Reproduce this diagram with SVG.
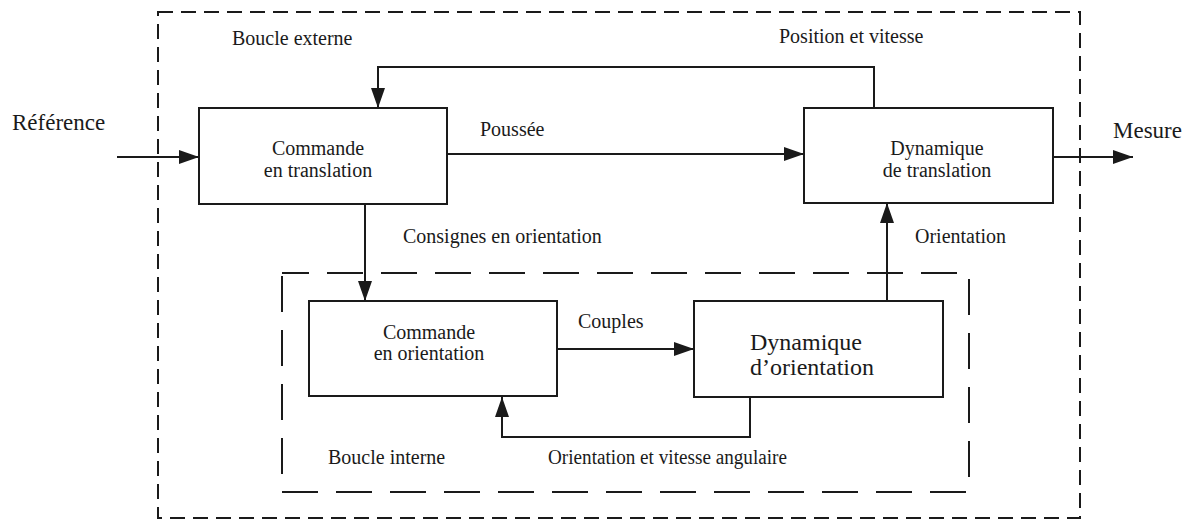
<svg xmlns="http://www.w3.org/2000/svg" width="1193" height="520" viewBox="0 0 1193 520">
  <style>
    .box { fill: #ffffff; stroke: #1a1a1a; stroke-width: 2; }
    .wire { fill: none; stroke: #1a1a1a; stroke-width: 2; }
    .loop-outer { fill: none; stroke: #1a1a1a; stroke-width: 2; stroke-dasharray: 15 8; }
    .loop-inner { fill: none; stroke: #1a1a1a; stroke-width: 2; stroke-dasharray: 36 18; stroke-dashoffset: 9; }
    text { font-family: "Liberation Serif", "Times New Roman", serif; font-size: 20px; fill: #1a1a1a; }
    .big { font-size: 23px; }
    .mid { text-anchor: middle; }
  </style>
  <defs>
    <marker id="arrow" markerUnits="userSpaceOnUse" markerWidth="20" markerHeight="14" refX="20" refY="7" orient="auto">
      <path d="M0,0 L20,7 L0,14 Z" fill="#1a1a1a"/>
    </marker>
  </defs>

  <rect width="1193" height="520" fill="#ffffff"/>

  <!-- loop boundaries -->
  <g id="outer-loop">
    <rect class="loop-outer" x="158" y="12" width="922" height="506"/>
    <text x="232" y="45">Boucle externe</text>
  </g>
  <g id="inner-loop">
    <rect class="loop-inner" x="282" y="273" width="687" height="219"/>
    <text x="328" y="464">Boucle interne</text>
  </g>

  <!-- connectors -->
  <g id="connectors">
    <line class="wire" x1="117" y1="157" x2="199" y2="157" marker-end="url(#arrow)"/>
    <line class="wire" x1="447" y1="154" x2="804" y2="154" marker-end="url(#arrow)"/>
    <line class="wire" x1="1053" y1="157" x2="1133" y2="157" marker-end="url(#arrow)"/>
    <polyline class="wire" points="874,108 874,67 378,67 378,108" marker-end="url(#arrow)"/>
    <line class="wire" x1="365" y1="204" x2="365" y2="301" marker-end="url(#arrow)"/>
    <line class="wire" x1="557" y1="349" x2="694" y2="349" marker-end="url(#arrow)"/>
    <line class="wire" x1="887" y1="301" x2="887" y2="203" marker-end="url(#arrow)"/>
    <polyline class="wire" points="750,397 750,437 502,437 502,397" marker-end="url(#arrow)"/>

    <text class="big" x="12" y="130">Référence</text>
    <text x="480" y="136">Poussée</text>
    <text class="big" x="1113" y="138">Mesure</text>
    <text x="779" y="43">Position et vitesse</text>
    <text x="403" y="243">Consignes en orientation</text>
    <text x="915" y="243">Orientation</text>
    <text x="578" y="328">Couples</text>
    <text x="548" y="464" textLength="239" lengthAdjust="spacingAndGlyphs">Orientation et vitesse angulaire</text>
  </g>

  <!-- blocks -->
  <g id="commande-translation">
    <rect class="box" x="199" y="108" width="248" height="96"/>
    <text class="mid" x="318" y="155">Commande</text>
    <text class="mid" x="318" y="177">en translation</text>
  </g>
  <g id="dynamique-translation">
    <rect class="box" x="804" y="108" width="249" height="95"/>
    <text class="mid" x="937" y="155">Dynamique</text>
    <text class="mid" x="937" y="177">de translation</text>
  </g>
  <g id="commande-orientation">
    <rect class="box" x="309" y="301" width="248" height="95"/>
    <text class="mid" x="429" y="339">Commande</text>
    <text class="mid" x="429" y="360">en orientation</text>
  </g>
  <g id="dynamique-orientation">
    <rect class="box" x="694" y="301" width="249" height="96"/>
    <text x="750" y="350" style="font-size:24px">Dynamique</text>
    <text x="750" y="375" style="font-size:24px">d’orientation</text>
  </g>
</svg>
